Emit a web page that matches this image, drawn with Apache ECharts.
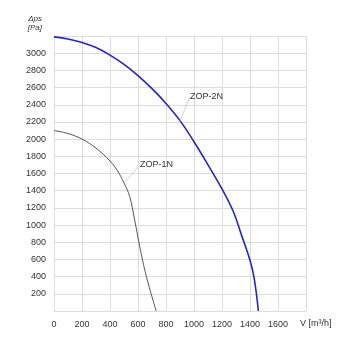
<!DOCTYPE html>
<html>
<head>
<meta charset="utf-8">
<script src="https://cdn.jsdelivr.net/npm/echarts@6/dist/echarts.min.js"></script>
<style>
  html, body { margin: 0; padding: 0; background: #fff; }
  #main { width: 350px; height: 350px; }
</style>
</head>
<body>
<div id="main"></div>
<script>
// flow V [m3/h] / pressure dps [Pa]
var zop2n = [[0, 3190], [100, 3165], [200, 3125], [300, 3065], [400, 2978], [500, 2870], [600, 2740],
  [700, 2587], [800, 2415], [900, 2215], [1000, 1970], [1100, 1700], [1200, 1420], [1280, 1160],
  [1340, 880], [1400, 590], [1430, 380], [1460, 0]];
var zop1n = [[0, 2100], [100, 2065], [200, 2000], [300, 1895], [400, 1745], [450, 1640], [500, 1490],
  [540, 1335], [575, 1070], [610, 770], [660, 400], [730, 0]];
var seriesNames = ["ZOP-2N", "ZOP-1N"];
var labelAt = [900, 500]; // flow where each curve is tagged

var font = "Liberation Sans, Arial, sans-serif";
var gridColor = "#dcdcdc";

// only the tagged point gets a label (and its leader line)
function withLabel(data, flow) {
  return data.map(function (p) {
    if (p[0] !== flow) return p;
    return {
      value: p,
      label: { show: true },
      labelLine: { show: true },
    };
  });
}

function curve(name, data, flow, color, width, dx, dy) {
  return {
    name: name,
    type: "line",
    data: withLabel(data, flow),
    smooth: 0.4,
    showSymbol: true,
    symbol: "circle",
    symbolSize: 0,
    lineStyle: { color: color, width: width },
    itemStyle: { color: color },
    label: {
      show: false, position: "right", distance: 0,
      formatter: name, fontSize: 9, color: "#333", fontFamily: font,
    },
    labelLine: { show: false, lineStyle: { color: "#cfcfcf", width: 1 } },
    labelLayout: { dx: dx, dy: dy },
  };
}

var chart = echarts.init(document.getElementById("main"));
chart.setOption({
  animation: false,
  grid: { left: 54, right: 44, top: 36, bottom: 39 },
  xAxis: {
    type: "value",
    min: 0,
    max: 1800,
    interval: 200,
    name: "V [m³/h]",
    nameLocation: "end",
    nameGap: -6,
    nameTextStyle: {
      fontSize: 9, color: "#333", fontFamily: font,
      align: "left", verticalAlign: "top", padding: [8, 0, 0, 0],
    },
    axisLine: { show: false },
    axisTick: { show: false },
    axisLabel: {
      fontSize: 9, color: "#333", fontFamily: font, margin: 9,
      formatter: function (v) { return v === 1800 ? "" : v; },
    },
    splitLine: { show: true, lineStyle: { color: gridColor, width: 1 } },
  },
  yAxis: {
    type: "value",
    min: 0,
    max: 3200,
    interval: 200,
    name: "Δps\n[Pa]",
    nameLocation: "end",
    nameGap: 4,
    nameTextStyle: {
      fontSize: 8, color: "#333", fontFamily: font, fontStyle: "italic",
      align: "right", verticalAlign: "bottom", lineHeight: 9, padding: [0, 12, 0, 0],
    },
    axisLine: { show: false },
    axisTick: { show: false },
    axisLabel: {
      fontSize: 9, color: "#333", fontFamily: font, margin: 8,
      formatter: function (v) { return v === 0 || v === 3200 ? "" : v; },
    },
    splitLine: { show: true, lineStyle: { color: gridColor, width: 1 } },
  },
  series: [
    curve(seriesNames[0], zop2n, labelAt[0], "#2424d0", 1.6, 10, -24),
    curve(seriesNames[1], zop1n, labelAt[1], "#555555", 1, 16, -18),
  ],
});
</script>
</body>
</html>
